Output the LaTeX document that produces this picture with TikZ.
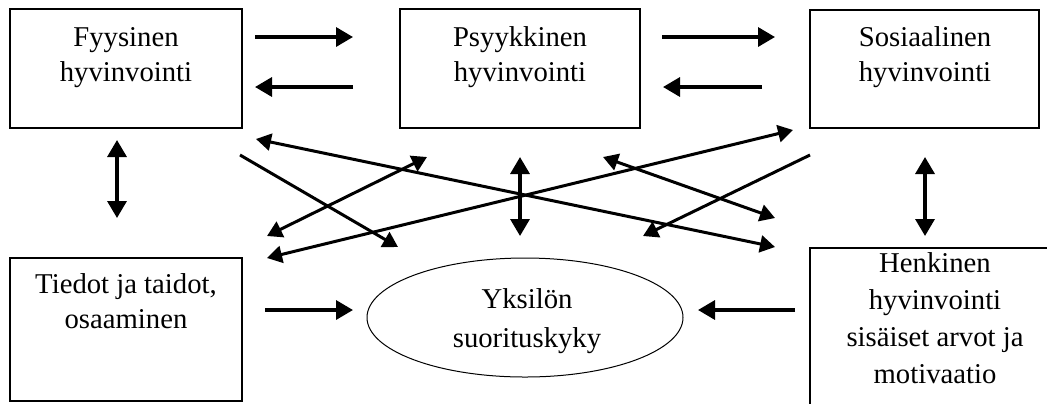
\documentclass[tikz,border=0pt]{standalone}
\usepackage{fontspec}
\setmainfont{Liberation Serif}
\usetikzlibrary{arrows.meta,shapes.geometric}
\tikzset{
  box/.style={draw, line width=0.8pt, rectangle, inner sep=0pt, outer sep=0pt},
  oval/.style={draw, line width=0.5pt, ellipse, inner sep=0pt, outer sep=0pt},
  txt/.style={align=center, inner sep=0pt, font=\fontsize{14.35}{17.5}\selectfont},
  arr/.style={line width=1.7pt, -{Triangle[length=8.5pt,width=9.5pt]}},
  darr/.style={line width=1.7pt, {Triangle[length=8.5pt,width=9.5pt]}-{Triangle[length=8.5pt,width=9.5pt]}},
  darrs/.style={line width=1.5pt, {Triangle[length=7.5pt,width=8.5pt]}-{Triangle[length=7.5pt,width=8.5pt]}},
  arrs/.style={line width=1.5pt, -{Triangle[length=7.5pt,width=8.5pt]}},
}
\begin{document}
\begin{tikzpicture}[x=0.5pt,y=-0.5pt]
\useasboundingbox (0,0) rectangle (1047,403);
\clip (0,0) rectangle (1047,403);
% boxes
\node[box, minimum width=116pt, minimum height=59.5pt] (fy) at (126,68.5) {};
\node[box, minimum width=120pt, minimum height=59.5pt] (ps) at (520,68.5) {};
\node[box, minimum width=114.5pt, minimum height=59pt] (so) at (924.5,69) {};
\node[box, minimum width=116pt, minimum height=71.5pt] (ti) at (126,329.5) {};
\node[oval, minimum width=158pt, minimum height=59.5pt] (el) at (525,317.5) {};
\node[box, minimum width=130pt, minimum height=91pt] (he) at (940,339) {};
% texts
\node[txt] (fyt) at (126,57.6) {Fyysinen\\hyvinvointi};
\node[txt] (pst) at (520,57.4) {Psyykkinen\\hyvinvointi};
\node[txt] (sot) at (925,57.4) {Sosiaalinen\\hyvinvointi};
\node[txt] (tit) at (126,300.8) {Tiedot ja taidot,\\osaaminen};
\node[txt, font=\fontsize{14.35}{19.5}\selectfont] (elt) at (527,320.8) {Yksilön\\suorituskyky};
\node[txt, font=\fontsize{14.35}{18.5}\selectfont] (het) at (935,317.8) {Henkinen\\hyvinvointi\\sisäiset arvot ja\\motivaatio};
% arrow end coordinates
\coordinate (a1s) at (255,37);  \coordinate (a1e) at (353,37);
\coordinate (a2s) at (353,87);  \coordinate (a2e) at (255,87);
\coordinate (a3s) at (662,37);  \coordinate (a3e) at (775,37);
\coordinate (a4s) at (762,87);  \coordinate (a4e) at (663,87);
\coordinate (v1s) at (117,140); \coordinate (v1e) at (117,218);
\coordinate (v2s) at (520,157); \coordinate (v2e) at (520,236);
\coordinate (v3s) at (925,157); \coordinate (v3e) at (925,236);
\coordinate (h1s) at (265,310); \coordinate (h1e) at (353,310);
\coordinate (h2s) at (795,310); \coordinate (h2e) at (698,310);
\coordinate (d1s) at (256,139); \coordinate (d1e) at (775,247);
\coordinate (d2s) at (240,155); \coordinate (d2e) at (398,247);
\coordinate (d3s) at (267,236); \coordinate (d3e) at (427,157);
\coordinate (d4s) at (267,258); \coordinate (d4e) at (793,130);
\coordinate (d5s) at (603,157); \coordinate (d5e) at (775,218);
\coordinate (d6s) at (810,155); \coordinate (d6e) at (643,236);
% horizontal arrows
\draw[arr] (a1s) -- (a1e);
\draw[arr] (a2s) -- (a2e);
\draw[arr] (a3s) -- (a3e);
\draw[arr] (a4s) -- (a4e);
\draw[arr] (h1s) -- (h1e);
\draw[arr] (h2s) -- (h2e);
% vertical arrows
\draw[darr] (v1s) -- (v1e);
\draw[darr] (v2s) -- (v2e);
\draw[darr] (v3s) -- (v3e);
% diagonals
\draw[darrs] (d1s) -- (d1e);
\draw[arrs] (d2s) -- (d2e);
\draw[darrs] (d3s) -- (d3e);
\draw[darrs] (d4s) -- (d4e);
\draw[darrs] (d5s) -- (d5e);
\draw[arrs] (d6s) -- (d6e);
\end{tikzpicture}
\end{document}
